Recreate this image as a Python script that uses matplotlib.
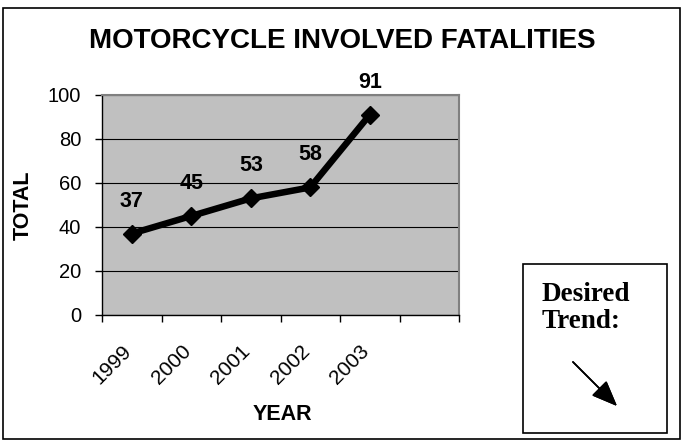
import matplotlib
matplotlib.use("Agg")
import matplotlib.pyplot as plt
from matplotlib.patches import Rectangle
from matplotlib.transforms import ScaledTranslation

years = ["1999", "2000", "2001", "2002", "2003", ""]
totals = [37, 45, 53, 58, 91]
yticks = [0, 20, 40, 60, 80, 100]

plt.rcParams["font.family"] = ["Liberation Sans", "DejaVu Sans"]

W, H = 683, 442
fig = plt.figure(figsize=(W / 100, H / 100), dpi=100)
fig.patch.set_facecolor("white")

# outer chart border
fig.add_artist(Rectangle((3 / W, 1 - 439 / H), 677 / W, 431 / H, transform=fig.transFigure,
                         fill=False, edgecolor="black", lw=1.2))

ax = fig.add_axes([102 / W, 1 - 315 / H, 357 / W, 220 / H])
ax.set_facecolor("#c0c0c0")

xs = list(range(len(totals)))
ax.plot(xs, totals, color="black", lw=4.7, marker="D", markersize=9.5, zorder=3,
        solid_joinstyle="miter")
for x, v in zip(xs, totals):
    ax.annotate(str(v), (x, v), xytext=(0, 19.4), textcoords="offset points",
                ha="center", va="baseline", fontsize=15.5, fontweight="bold")

ax.set_xlim(-0.5, len(years) - 0.5)
ax.set_ylim(0, 100)
ax.set_yticks(yticks)
ax.set_yticklabels([str(t) for t in yticks], fontsize=14.5)
ax.yaxis.grid(True, color="black", lw=0.8)
ax.set_axisbelow(True)

ax.set_xticks([i - 0.5 for i in range(len(years) + 1)])
ax.set_xticklabels([])
ax.set_xticks(range(len(years)), minor=True)
ax.set_xticklabels(years, minor=True, rotation=45, ha="right", rotation_mode="anchor",
                   fontsize=15)
ax.tick_params(axis="x", which="major", direction="out", length=5, width=1)
ax.tick_params(axis="x", which="minor", length=0, pad=19)
ax.tick_params(axis="y", direction="out", length=5, width=1, pad=10)
shift = ScaledTranslation(-10 / 100, 0, fig.dpi_scale_trans)
for lab in ax.get_xticklabels(minor=True):
    lab.set_transform(lab.get_transform() + shift)

for s in ["top", "right"]:
    ax.spines[s].set_color("#808080")
    ax.spines[s].set_linewidth(1.5)
for s in ["left", "bottom"]:
    ax.spines[s].set_color("black")
    ax.spines[s].set_linewidth(1)

fig.text(342 / W, 1 - 41 / H, "MOTORCYCLE INVOLVED FATALITIES", ha="center", va="center",
         fontsize=20, fontweight="bold")
fig.text(282 / W, 1 - 414 / H, "YEAR", ha="center", va="center", fontsize=15.5,
         fontweight="bold")
fig.text(23.5 / W, 1 - 205 / H, "TOTAL", ha="center", va="center", fontsize=15.5,
         fontweight="bold", rotation=90)

# desired trend box
fig.add_artist(Rectangle((523 / W, 1 - 433 / H), 144 / W, 169 / H, transform=fig.transFigure,
                         fill=False, edgecolor="black", lw=1.2))
fig.text(542 / W, 1 - 282 / H, "Desired\nTrend:", ha="left", va="top", fontsize=19.5,
         fontweight="bold", family=["Liberation Serif", "DejaVu Serif"], linespacing=1.12)
fig.add_artist(plt.annotate("", xy=(619 / W, 1 - 408 / H), xytext=(571 / W, 1 - 360 / H),
                            xycoords="figure fraction", textcoords="figure fraction",
                            arrowprops=dict(arrowstyle="-|>,head_length=1.6,head_width=0.65",
                                            color="black", lw=1.2)))

fig.savefig("out.png", dpi=100)
